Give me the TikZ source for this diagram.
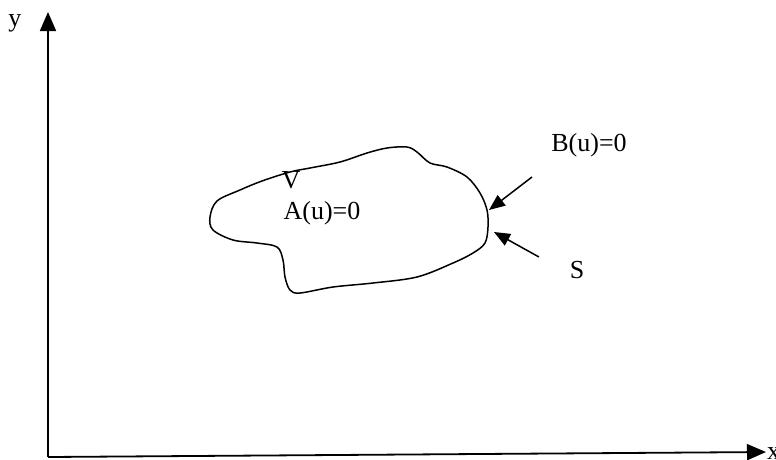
\documentclass[tikz,border=0pt]{standalone}
\usepackage{fontspec}
\setmainfont{Liberation Serif}
\usetikzlibrary{arrows.meta,positioning}
\tikzset{
  axisline/.style={-{Triangle[length=19pt,width=16pt]},line width=1.8pt,draw=black},
  pointer/.style={-{Triangle[length=16pt,width=13pt]},line width=1.5pt,draw=black},
  boundary/.style={line width=1.5pt,draw=black,line join=round},
  lbl/.style={font=\fontsize{26}{29}\selectfont,inner sep=0pt}
}
\begin{document}
\begin{tikzpicture}[x=1pt,y=-1pt]
\useasboundingbox (0,0) rectangle (776,459);
% axes
\coordinate (o) at (48,457);
\coordinate (ytop) at (48,12);
\coordinate (xend) at (766,452);
\draw[axisline] (o) -- (ytop);
\draw[axisline] (o) -- (xend);
\node[lbl] (ylbl) at (15,23) {y};
\node[lbl,anchor=west] (xlbl) at (767,454) {x};
% domain
\draw[boundary] plot[smooth cycle,tension=0.55] coordinates {
  (210,217) (217,201) (240,190) (262,181) (290,172) (310,168) (340,162)
  (367,153) (387,148) (407,147) (417,152) (430,163) (447,167) (467,177)
  (480,193) (487,210) (488,227) (485,243) (473,253) (453,263) (417,277)
  (373,283) (333,287) (300,293) (290,290) (285,277) (283,260) (277,247)
  (257,243) (233,240) (213,230)};
\node[lbl] (vlbl) at (291,180) {V};
\node[lbl] (albl) at (322,213) {A(u)=0};
% boundary labels
\node[lbl] (blbl) at (589,145) {B(u)=0};
\node[lbl] (slbl) at (577,270) {S};
\coordinate (btip) at (489,210);
\coordinate (stip) at (494,232);
\draw[pointer] (532,177) -- (btip);
\draw[pointer] (539,257) -- (stip);
\end{tikzpicture}
\end{document}
